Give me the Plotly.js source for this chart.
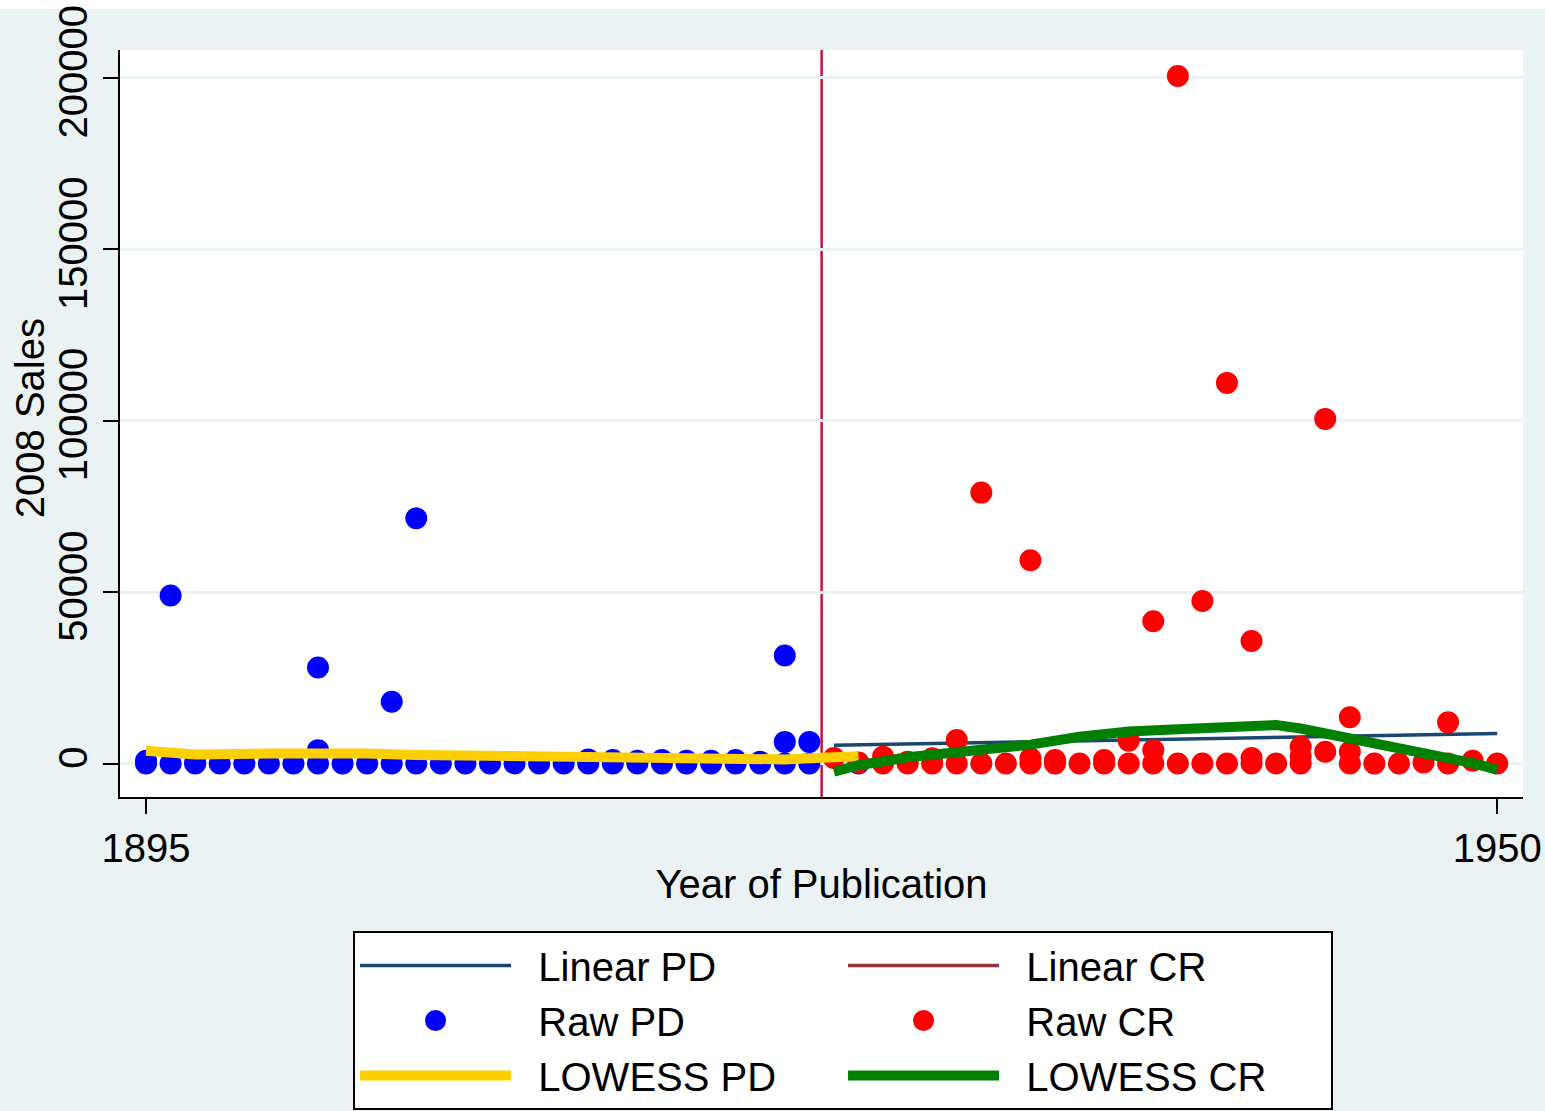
<!DOCTYPE html>
<html>
<head>
<meta charset="utf-8">
<script src="https://cdn.plot.ly/plotly-3.0.1.min.js"></script>
<style>
  html, body { margin: 0; padding: 0; background: #ffffff; }
  #chart {
    position: absolute; left: 0; top: 0; width: 1545px; height: 1111px;
    background: linear-gradient(to bottom, #ffffff 0px, #ffffff 9px, #eaf2f3 9px, #eaf2f3 100%);
  }
</style>
</head>
<body>
<div id="chart"></div>
<script>
// Titles sold in 2008, by year of first publication.
// PD = public-domain titles (up to 1922), CR = titles still under copyright.

const pdYear  = [1895, 1895, 1896, 1896, 1897, 1897, 1898, 1899, 1900, 1901,
                 1902, 1902, 1902, 1903, 1904, 1905, 1905, 1906, 1906, 1907,
                 1908, 1909, 1910, 1911, 1912, 1913, 1913, 1914, 1914, 1915,
                 1915, 1916, 1916, 1917, 1917, 1918, 1918, 1919, 1919, 1920,
                 1920, 1921, 1921, 1921, 1922, 1922, 1924];
const pdSales = [0, 800, 0, 49000, 0, 300, 0, 0, 0, 0,
                 0, 3900, 28000, 0, 0, 0, 18000, 0, 71500, 0,
                 0, 0, 0, 0, 0, 0, 1200, 0, 1000, 0,
                 800, 0, 1000, 0, 800, 0, 800, 0, 1000, 0,
                 500, 0, 6300, 31500, 0, 6300, 0];

const crYear  = [1923, 1924, 1925, 1925, 1926, 1926, 1927, 1927, 1928, 1928,
                 1929, 1929, 1930, 1931, 1931, 1931, 1932, 1932, 1933, 1934,
                 1934, 1935, 1935, 1936, 1936, 1936, 1937, 1937, 1938, 1938,
                 1939, 1939, 1940, 1940, 1940, 1941, 1942, 1942, 1942, 1943,
                 1943, 1944, 1944, 1944, 1945, 1946, 1947, 1948, 1948, 1949,
                 1950];
const crSales = [1600, 300, 2000, 0, 0, 500, 1500, 0, 6850, 0,
                 0, 79000, 0, 1500, 0, 59300, 1000, 0, 0, 1000,
                 0, 6650, 0, 3900, 0, 41500, 0, 200500, 0, 47400,
                 0, 111000, 1600, 0, 35700, 0, 4900, 2000, 0, 3400,
                 100500, 13500, 3400, 0, 0, 0, 300, 12000, 0, 800,
                 0];

// Linear fit over the copyright years
const linYear  = [1923, 1950];
const linSales = [5300, 8750];

// LOWESS smooths
const pdLowYear  = [1895, 1897, 1900, 1902, 1904, 1906, 1909, 1911, 1913, 1915,
                    1917, 1919, 1921, 1922, 1924];
const pdLowSales = [3700, 2600, 2900, 3100, 2900, 2500, 2200, 1900, 1600, 1200,
                    900, 800, 1200, 1500, 2100];

const crLowYear  = [1923, 1924, 1926, 1928, 1930, 1931, 1933, 1934, 1935, 1937,
                    1939, 1940, 1941, 1942, 1943, 1944, 1945, 1946, 1947, 1948,
                    1949, 1950];
const crLowSales = [-2400, -500, 1800, 3300, 4300, 5500, 7800, 8700, 9300, 10000,
                    10700, 11200, 11200, 10200, 8800, 7000, 5600, 4300, 2900, 1700,
                    100, -1800];

// Copyright cut-off between 1922 and 1923
const cutoffYear = 1922.5;

const xTicks = [1895, 1950];
const yTicks = [0, 50000, 100000, 150000, 200000];

const FONT = '"Liberation Sans", Arial, Helvetica, sans-serif';
const BG = '#eaf2f3';
const PAD = '\u00a0\u00a0';   // gap between legend key and its label

const traces = [
  { name: PAD + 'Linear PD', x: linYear, y: linSales, type: 'scatter', mode: 'lines',
    line: { color: '#1a476f', width: 3.5 }, legendrank: 1 },
  { name: PAD + 'Linear CR', x: [null], y: [null], type: 'scatter', mode: 'lines',
    line: { color: '#90353b', width: 3.5 }, legendrank: 2 },
  { name: PAD + 'Raw PD', x: pdYear, y: pdSales, type: 'scatter', mode: 'markers',
    marker: { color: '#0000ff', size: 17, line: { color: '#0000ff', width: 5 } }, legendrank: 3 },
  { name: PAD + 'Raw CR', x: crYear, y: crSales, type: 'scatter', mode: 'markers',
    marker: { color: '#ff0000', size: 17, line: { color: '#ff0000', width: 5 } }, legendrank: 4 },
  { name: PAD + 'LOWESS PD', x: pdLowYear, y: pdLowSales, type: 'scatter', mode: 'lines',
    line: { color: '#ffd000', width: 10 }, legendrank: 5 },
  { name: PAD + 'LOWESS CR', x: crLowYear, y: crLowSales, type: 'scatter', mode: 'lines',
    line: { color: '#008000', width: 10 }, legendrank: 6 }
];

const layout = {
  width: 1545,
  height: 1111,
  paper_bgcolor: 'rgba(0,0,0,0)',
  plot_bgcolor: '#ffffff',
  font: { family: FONT, size: 40, color: '#000000' },
  margin: { l: 120, r: 22, t: 50, b: 314, pad: 0 },
  showlegend: true,
  xaxis: {
    range: [1893.94, 1951.05],
    tickvals: xTicks,
    ticktext: xTicks.map(String),
    ticks: 'outside', ticklen: 15, tickwidth: 2, tickcolor: '#000000',
    showline: true, linecolor: '#000000', linewidth: 2,
    showgrid: false, zeroline: false,
    tickfont: { family: FONT, size: 40 },
    title: { text: 'Year of Publication', font: { family: FONT, size: 40 }, standoff: 1 }
  },
  yaxis: {
    range: [-9770, 208080],
    tickvals: yTicks,
    ticktext: yTicks.map(String),
    tickangle: -90,
    ticklabeloverflow: 'allow',
    ticks: 'outside', ticklen: 15, tickwidth: 2, tickcolor: '#000000',
    showline: true, linecolor: '#000000', linewidth: 2,
    showgrid: true, gridcolor: BG, gridwidth: 3,
    zeroline: false,
    tickfont: { family: FONT, size: 40 }
  },
  annotations: [{
    text: '2008 Sales',
    xref: 'paper', yref: 'paper',
    x: -0.0642, y: 0.507,
    xanchor: 'center', yanchor: 'middle',
    textangle: -90, showarrow: false,
    font: { family: FONT, size: 40, color: '#000000' }
  }],
  shapes: [{
    type: 'line', xref: 'x', yref: 'paper',
    x0: cutoffYear, x1: cutoffYear, y0: 0, y1: 1,
    line: { color: '#c8103c', width: 2.5 },
    layer: 'between'
  }],
  legend: {
    orientation: 'h',
    x: 0.1661, xanchor: 'left',
    yref: 'container', y: 0.162, yanchor: 'top',
    bgcolor: '#ffffff', bordercolor: '#000000', borderwidth: 2,
    font: { family: FONT, size: 40 },
    itemwidth: 151,
    entrywidth: 322, entrywidthmode: 'pixels',
    traceorder: 'normal'
  }
};

Plotly.newPlot('chart', traces, layout, { displayModeBar: false, staticPlot: true });
</script>
</body>
</html>
